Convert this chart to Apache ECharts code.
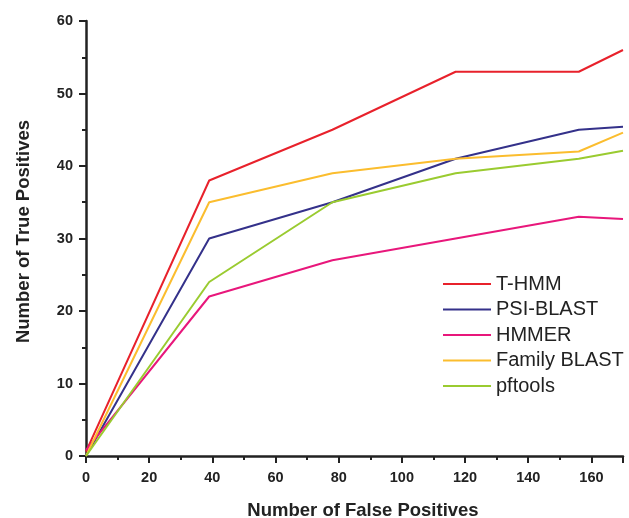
<!DOCTYPE html>
<html><head><meta charset="utf-8">
<script src="https://cdn.jsdelivr.net/npm/echarts@6/dist/echarts.min.js"></script>
<style>html,body{margin:0;padding:0;background:#fff}#c{width:629px;height:518px}</style>
</head><body><div id="c"></div>
<script>
const falsePositives = [0, 39, 78, 117, 156, 170];
const tHMM = [0.6, 38, 45, 53, 53, 56];
const psiBlast = [0, 30, 35, 41, 45, 45.4];
const hmmer = [0.8, 22, 27, 30, 33, 32.7];
const familyBlast = [0, 35, 39, 41, 42, 44.6];
const pftools = [0, 24, 35, 39, 41, 42.1];
const seriesNames = ['T-HMM', 'PSI-BLAST', 'HMMER', 'Family BLAST', 'pftools'];
const seriesData = [tHMM, psiBlast, hmmer, familyBlast, pftools];
const colors = ['#e8212b', '#34318a', '#e8177b', '#fbbd2e', '#9acb30'];

const chart = echarts.init(document.getElementById('c'));
const font = 'Liberation Sans, Arial, sans-serif';
const axisCommon = {
  axisLine: {show: true, lineStyle: {color: '#222', width: 2.5}},
  axisTick: {show: true, inside: false, length: 7, lineStyle: {color: '#222', width: 2}},
  minorTick: {show: true, splitNumber: 2, length: 4, lineStyle: {color: '#222', width: 2}},
  splitLine: {show: false},
  axisLabel: {color: '#222', fontWeight: 'bold', fontSize: 14.5, fontFamily: font, showMaxLabel: false},
  nameTextStyle: {color: '#222', fontWeight: 'bold', fontSize: 18.5, fontFamily: font}
};
chart.setOption({
  animation: false,
  backgroundColor: '#fff',
  grid: {left: 86, right: 6, top: 21, bottom: 62, containLabel: false, outerBoundsMode: 'none'},
  xAxis: Object.assign({}, axisCommon, {
    type: 'value', min: 0, max: 170, interval: 20,
    name: 'Number of False Positives', nameLocation: 'middle', nameGap: 45,
    nameTextStyle: Object.assign({}, axisCommon.nameTextStyle, {padding: [0, 0, 0, 17]}),
    axisLabel: Object.assign({}, axisCommon.axisLabel, {margin: 14})
  }),
  yAxis: Object.assign({}, axisCommon, {
    type: 'value', min: 0, max: 60, interval: 10,
    name: 'Number of True Positives', nameLocation: 'middle', nameGap: 53,
    nameTextStyle: Object.assign({}, axisCommon.nameTextStyle, {padding: [0, 0, 0, 14]}),
    axisLabel: Object.assign({}, axisCommon.axisLabel, {margin: 13, showMaxLabel: true})
  }),
  legend: {
    orient: 'vertical', left: 438, top: 269, itemGap: 5.5, itemWidth: 48, itemHeight: 18.6,
    icon: 'path://M0,8L49,8L49,10L0,10Z',
    data: seriesNames,
    textStyle: {color: '#222', fontSize: 20, fontFamily: font}
  },
  series: seriesNames.map((n, i) => ({
    name: n, type: 'line', symbol: 'none',
    data: falsePositives.map((x, j) => [x, seriesData[i][j]]),
    lineStyle: {color: colors[i], width: 2}, itemStyle: {color: colors[i]}
  }))
});
</script></body></html>
